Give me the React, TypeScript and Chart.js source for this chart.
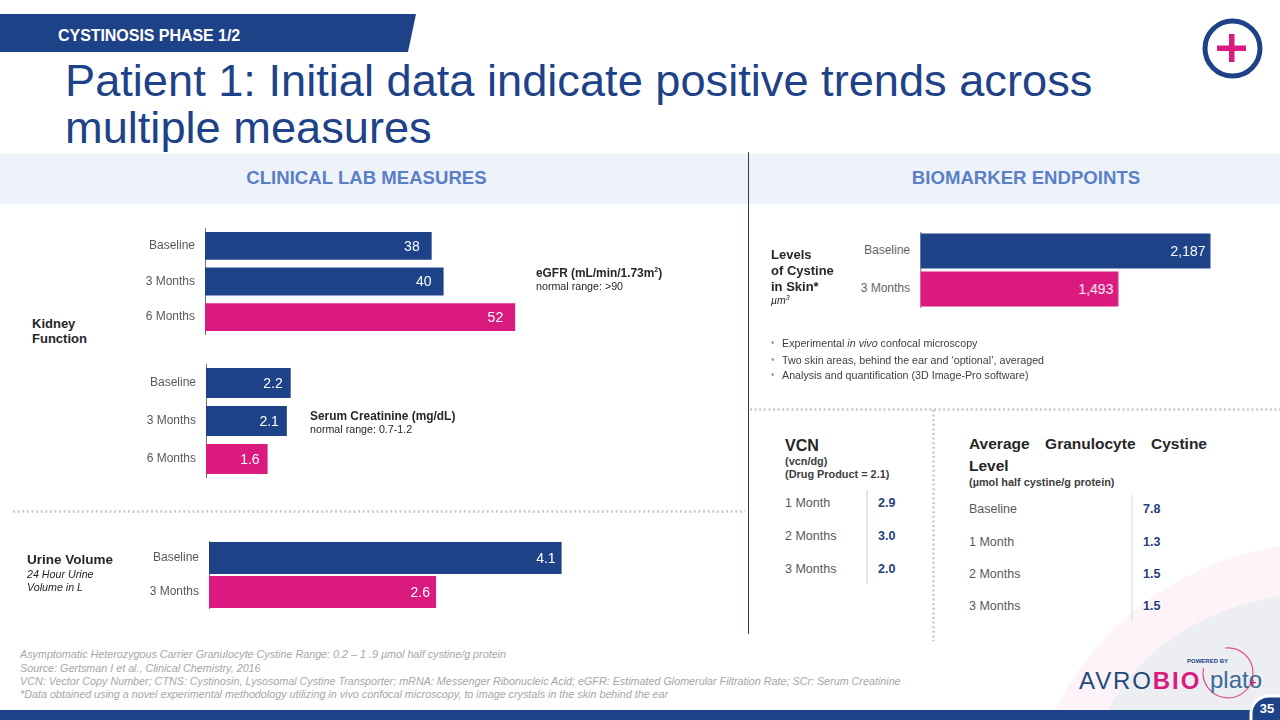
import React, { useEffect, useRef } from "react";
import { Chart, registerables } from "chart.js";

Chart.register(...registerables);

const NAVY = "#1E4287";
const PINK = "#DB1A80";
const FONT = '"Liberation Sans", Arial, sans-serif';

// ---- data ----
const egfrLabels = ["Baseline", "3 Months", "6 Months"];
const egfrValues = [38, 40, 52];
const egfrColors = [NAVY, NAVY, PINK];

const scrLabels = ["Baseline", "3 Months", "6 Months"];
const scrValues = [2.2, 2.1, 1.6];
const scrColors = [NAVY, NAVY, PINK];

const urineLabels = ["Baseline", "3 Months"];
const urineValues = [4.1, 2.64];
const urineColors = [NAVY, PINK];

const skinLabels = ["Baseline", "3 Months"];
const skinValues = [2187, 1493];
const skinColors = [NAVY, PINK];

const vcnLabels = ["1 Month", "2 Months", "3 Months"];
const vcnValues = ["2.9", "3.0", "2.0"];
const vcnRows = [503, 536, 569];

const granLabels = ["Baseline", "1 Month", "2 Months", "3 Months"];
const granValues = ["7.8", "1.3", "1.5", "1.5"];
const granRows = [509, 542, 574, 606];

const bullets = [
  <>Experimental <i>in vivo</i> confocal microscopy</>,
  <>Two skin areas, behind the ear and ‘optional’, averaged</>,
  <>Analysis and quantification (3D Image-Pro software)</>,
];
const bulletRows = [343, 360, 375];

const footnotes = [
  "Asymptomatic Heterozygous Carrier Granulocyte Cystine Range: 0.2 – 1 .9 µmol half cystine/g protein",
  "Source: Gertsman I et al., Clinical Chemistry, 2016",
  "VCN: Vector Copy Number; CTNS: Cystinosin, Lysosomal Cystine Transporter; mRNA: Messenger Ribonucleic Acid; eGFR: Estimated Glomerular Filtration Rate; SCr: Serum Creatinine",
  "*Data obtained using a novel experimental methodology utilizing in vivo confocal microscopy, to image crystals in the skin behind the ear",
];
const footRows = [654, 667.5, 681, 694];

type BarProps = {
  labels: string[];
  values: number[];
  colors: string[];
  max: number;
  axisX: number;
  top: number;
  height: number;
  plotWidth: number;
  barPct: number;
  labelGap: number;
  format: (v: number) => string;
};

function HBar({ labels, values, colors, max, axisX, top, height, plotWidth, barPct, labelGap, format }: BarProps) {
  const ref = useRef<HTMLCanvasElement>(null);
  const gutter = 110;
  useEffect(() => {
    const valueLabels = {
      id: "valueLabels",
      afterDatasetsDraw(chart: any) {
        const { ctx } = chart;
        ctx.save();
        ctx.fillStyle = "#ffffff";
        ctx.font = `14px ${FONT}`;
        ctx.textAlign = "right";
        ctx.textBaseline = "middle";
        chart.getDatasetMeta(0).data.forEach((el: any, i: number) => {
          ctx.fillText(format(values[i]), el.x - labelGap, el.y + 1);
        });
        ctx.restore();
      },
    };
    const chart = new Chart(ref.current as HTMLCanvasElement, {
      type: "bar",
      data: {
        labels,
        datasets: [
          {
            data: values,
            backgroundColor: colors,
            barPercentage: barPct,
            categoryPercentage: 1,
            borderWidth: 0,
          },
        ],
      },
      options: {
        indexAxis: "y",
        animation: false,
        responsive: false,
        maintainAspectRatio: false,
        layout: { padding: 0 },
        plugins: { legend: { display: false }, tooltip: { enabled: false }, title: { display: false } },
        scales: {
          x: { display: false, min: 0, max },
          y: {
            grid: { display: false, drawTicks: false },
            border: { display: true, color: "#6f6f6f", width: 1 },
            ticks: { color: "#595959", font: { family: FONT, size: 12 }, padding: 10 },
            afterFit(s: any) {
              s.width = gutter;
              s.paddingTop = 0;
              s.paddingBottom = 0;
            },
          },
        },
      },
      plugins: [valueLabels],
    } as any);
    return () => chart.destroy();
  }, []);
  return (
    <canvas
      ref={ref}
      width={gutter + plotWidth}
      height={height}
      style={{
        position: "absolute",
        left: axisX - gutter,
        top,
        width: gutter + plotWidth,
        height,
      }}
    />
  );
}

function T({ x, y, size = 12, bold, italic, color = "#262626", children, w, style }: any) {
  return (
    <div
      style={{
        position: "absolute",
        left: x,
        top: y - 10,
        height: 20,
        lineHeight: "20px",
        width: w,
        fontFamily: FONT,
        fontSize: size,
        fontWeight: bold ? 700 : 400,
        fontStyle: italic ? "italic" : "normal",
        color,
        whiteSpace: "nowrap",
        ...style,
      }}
    >
      {children}
    </div>
  );
}

const fmt0 = (v: number) => String(v);
const fmt1 = (v: number) => v.toFixed(1);
const fmtK = (v: number) => v.toLocaleString("en-US");

export default function App() {
  useEffect(() => {
    document.body.style.margin = "0";
  }, []);
  return (
    <div
      style={{
        position: "fixed",
        left: 0,
        top: 0,
        width: 1280,
        height: 720,
        overflow: "hidden",
        background: "#fff",
      }}
    >
      <svg width={1280} height={720} style={{ position: "absolute", left: 0, top: 0 }}>
        {/* background swooshes */}
        <path d="M1055 710 C1095 630 1170 565 1280 546 L1280 710 Z" fill="#FDF3F8" />
        <path d="M1108 710 C1140 650 1200 610 1280 596 L1280 710 Z" fill="#ECEEF2" />
        {/* header banner */}
        <polygon points="0,14 416,14 408,52 0,52" fill={NAVY} />
        {/* bands */}
        <rect x={0} y={154} width={1280} height={50} fill="#EEF3FA" />
        {/* section rules */}
        <line x1={748.5} y1={152} x2={748.5} y2={634} stroke="#2B3F5C" strokeWidth={1} />
        <line x1={13} y1={511.5} x2={745} y2={511.5} stroke="#C9C9C9" strokeWidth={2.5} strokeDasharray="2 2.6" />
        <line x1={750} y1={409.5} x2={1280} y2={409.5} stroke="#C9C9C9" strokeWidth={2.5} strokeDasharray="2 2.6" />
        <line x1={933.5} y1={410} x2={933.5} y2={641} stroke="#C9C9C9" strokeWidth={2.5} strokeDasharray="2 2.6" />
        {/* table rules */}
        <line x1={867} y1={490} x2={867} y2={584} stroke="#D5DDEC" strokeWidth={1.5} />
        <line x1={1132} y1={495} x2={1132} y2={622} stroke="#E2E5EE" strokeWidth={1.5} />
        {/* plus icon */}
        <circle cx={1232.5} cy={48.5} r={27.5} fill="#fff" stroke={NAVY} strokeWidth={5} />
        <rect x={1217} y={45.5} width={29} height={5.5} fill={PINK} />
        <rect x={1229} y={34} width={5.5} height={28} fill={PINK} />
        {/* logo */}
        <path d="M1225 648 A25 25 0 1 1 1203.5 668" fill="none" stroke="#D9548F" strokeWidth={1.2} />
        <text x={1079} y={689} fontFamily={FONT} fontSize={24} letterSpacing={1.9} fill="#1F4A7C">
          AVRO<tspan fill={PINK} fontWeight={700}>BIO</tspan>
        </text>
        <text x={1187} y={663} fontFamily={FONT} fontSize={6} fontWeight={700} fill="#1E4287">POWERED BY</text>
        <text x={1210} y={688} fontFamily={FONT} fontSize={24} fill="#3D6A94">plato</text>
        <rect x={1250} y={682} width={6} height={1.2} fill={PINK} />
        <rect x={1252.4} y={679.6} width={1.2} height={6} fill={PINK} />
        {/* bottom strip */}
        <rect x={0} y={710} width={1280} height={10} fill={NAVY} />
        <rect x={1251} y={696} width={60} height={60} rx={18} fill={NAVY} stroke="#fff" strokeWidth={3} />
        <text x={1267} y={713} textAnchor="middle" fontFamily={FONT} fontSize={13} fontWeight={700} fill="#fff">35</text>
      </svg>

      <T x={58} y={36} size={16} bold color="#fff" style={{ letterSpacing: -0.05 }}>CYSTINOSIS PHASE 1/2</T>

      <div
        style={{
          position: "absolute",
          left: 65,
          top: 57,
          fontFamily: FONT,
          fontSize: 45.2,
          lineHeight: "47px",
          color: NAVY,
          whiteSpace: "nowrap",
        }}
      >
        Patient 1: Initial data indicate positive trends across
        <br />
        multiple measures
      </div>

      <T x={0} w={733} y={178} size={18.6} bold color="#5B7FC7" style={{ textAlign: "center" }}>CLINICAL LAB MEASURES</T>
      <T x={750} w={552} y={178} size={18.6} bold color="#5B7FC7" style={{ textAlign: "center" }}>BIOMARKER ENDPOINTS</T>

      <HBar labels={egfrLabels} values={egfrValues} colors={egfrColors} max={57} axisX={204.5} top={228} height={107} plotWidth={340} barPct={0.78} labelGap={12} format={fmt0} />
      <HBar labels={scrLabels} values={scrValues} colors={scrColors} max={4} axisX={206} top={364} height={114} plotWidth={154} barPct={0.79} labelGap={8} format={fmt1} />
      <HBar labels={urineLabels} values={urineValues} colors={urineColors} max={5} axisX={209} top={541} height={68} plotWidth={430} barPct={0.94} labelGap={6} format={fmt1} />
      <HBar labels={skinLabels} values={skinValues} colors={skinColors} max={2500} axisX={920} top={232} height={76} plotWidth={331.5} barPct={0.92} labelGap={5} format={fmtK} />

      <T x={32} y={324} size={13} bold>Kidney</T>
      <T x={32} y={339} size={13} bold>Function</T>

      <T x={536} y={273} size={11.9} bold>eGFR (mL/min/1.73m<sup style={{ fontSize: 7, lineHeight: 0 }}>2</sup>)</T>
      <T x={536} y={286} size={10.7}>normal range: &gt;90</T>

      <T x={310} y={416} size={11.9} bold>Serum Creatinine (mg/dL)</T>
      <T x={310} y={429} size={10.7}>normal range: 0.7-1.2</T>

      <T x={27} y={560} size={13.5} bold>Urine Volume</T>
      <T x={27} y={574} size={10.7} italic>24 Hour Urine</T>
      <T x={27} y={587} size={10.7} italic>Volume in L</T>

      <T x={771} y={255} size={13} bold>Levels</T>
      <T x={771} y={271} size={13} bold>of Cystine</T>
      <T x={771} y={287} size={13} bold>in Skin*</T>
      <T x={771} y={300} size={10.5} italic>µm<sup style={{ fontSize: 7, lineHeight: 0 }}>3</sup></T>

      {bullets.map((b, i) => (
        <React.Fragment key={i}>
          <T x={771} y={bulletRows[i]} size={10} color="#A89BA5">•</T>
          <T x={782} y={bulletRows[i]} size={10.7} color="#404040">{b}</T>
        </React.Fragment>
      ))}

      <T x={785} y={446} size={16} bold>VCN</T>
      <T x={785} y={461} size={10.9} bold color="#404040">(vcn/dg)</T>
      <T x={785} y={474} size={10.9} bold color="#404040">(Drug Product = 2.1)</T>
      {vcnLabels.map((l, i) => (
        <React.Fragment key={l}>
          <T x={785} y={vcnRows[i]} size={12.5} color="#595959">{l}</T>
          <T x={878} y={vcnRows[i]} size={12.5} bold color="#26407C">{vcnValues[i]}</T>
        </React.Fragment>
      ))}

      <T x={969} w={238} y={444} size={15.5} bold style={{ display: "flex", justifyContent: "space-between" }}>
        <span>Average</span><span>Granulocyte</span><span>Cystine</span>
      </T>
      <T x={969} y={466} size={15.5} bold>Level</T>
      <T x={969} y={482} size={10.9} bold color="#404040">(µmol half cystine/g protein)</T>
      {granLabels.map((l, i) => (
        <React.Fragment key={l}>
          <T x={969} y={granRows[i]} size={12.5} color="#595959">{l}</T>
          <T x={1143} y={granRows[i]} size={12.5} bold color="#26407C">{granValues[i]}</T>
        </React.Fragment>
      ))}

      {footnotes.map((f, i) => (
        <T key={i} x={20} y={footRows[i]} size={10.75} italic color="#A6A6A6">{f}</T>
      ))}
    </div>
  );
}
